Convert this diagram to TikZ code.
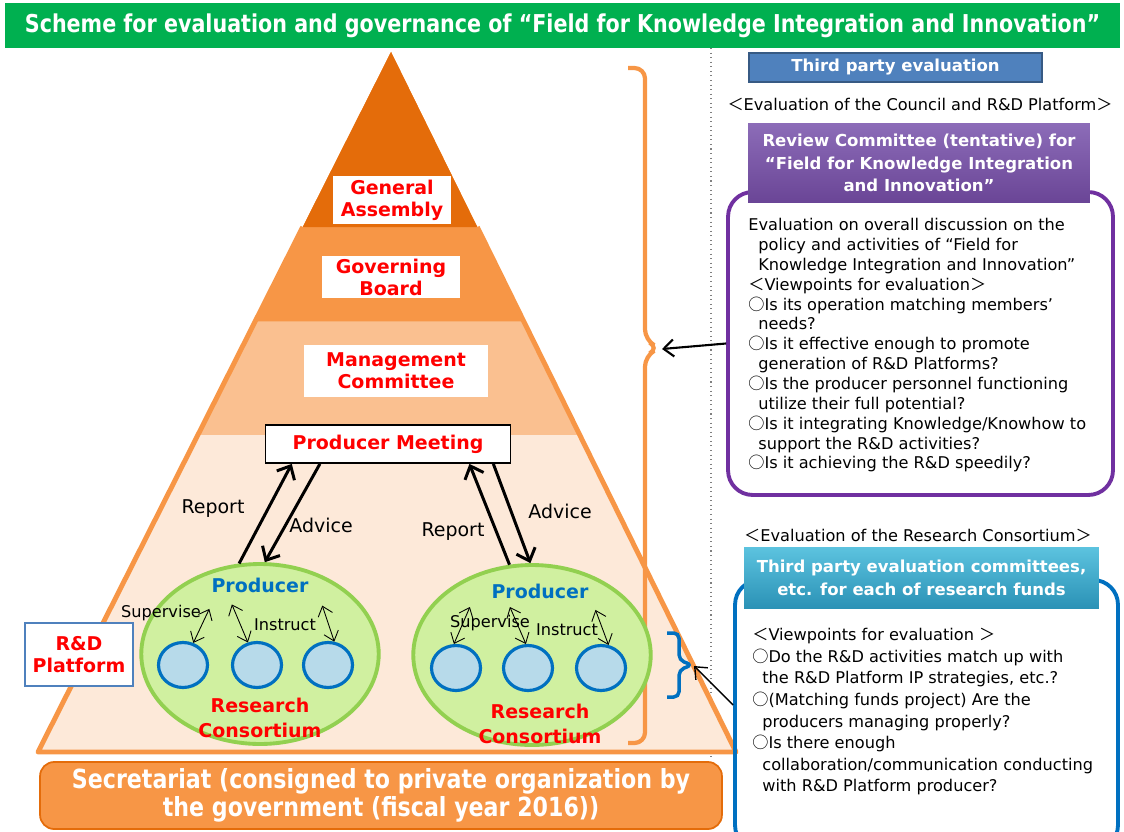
\documentclass[tikz,border=0pt]{standalone}
\usepackage{fontspec}
\setmainfont{DejaVu Sans}
\newfontfamily\cjk{Noto Sans CJK JP}
\newfontfamily\narrow{DejaVu Sans}[FakeStretch=0.84]
\usetikzlibrary{positioning,calc,arrows.meta,shapes.geometric}

\definecolor{titlegreen}{HTML}{00B050}
\definecolor{pyrA}{HTML}{E46C0A}
\definecolor{pyrB}{HTML}{F79646}
\definecolor{pyrC}{HTML}{FAC090}
\definecolor{pyrD}{HTML}{FDE9D9}
\definecolor{evblue}{HTML}{4F81BD}
\definecolor{linepurple}{HTML}{7030A0}
\definecolor{hdpurpleA}{HTML}{8C6CB8}
\definecolor{hdpurpleB}{HTML}{6A4596}
\definecolor{hdcyanA}{HTML}{5CC3DF}
\definecolor{hdcyanB}{HTML}{2B92B6}
\definecolor{lineblue}{HTML}{0070C0}
\definecolor{rcgreen}{HTML}{D0F0A0}
\definecolor{rcedge}{HTML}{92D050}
\definecolor{circblue}{HTML}{B7DAEA}

\newcommand\ind{\hspace*{0.2cm}}
\newcommand\lt{{\cjk ＜}}
\newcommand\gt{{\cjk ＞}}
\newcommand\ci{{\cjk ○}}

\begin{document}
\begin{tikzpicture}[x=0.02cm,y=-0.02cm,
  lvl/.style={fill=white,text=red,font=\fontsize{10.8}{12.6}\selectfont\bfseries,align=center,inner sep=0pt},
  hdr/.style={text=white,font=\fontsize{9.4}{13}\selectfont\bfseries,align=center,inner sep=0pt},
  bodytext/.style={font=\fontsize{9.2}{11.3}\selectfont,align=left,inner sep=0pt,anchor=north west},
  plainlabel/.style={font=\fontsize{9.2}{11}\selectfont,inner sep=0pt},
  consort/.style={ellipse,fill=rcgreen,draw=rcedge,line width=2.2pt,minimum width=4.75cm,minimum height=3.6cm},
  member/.style={ellipse,fill=circblue,draw=lineblue,line width=1.8pt,minimum width=0.98cm,minimum height=0.9cm},
  prodlbl/.style={text=lineblue,font=\fontsize{10.8}{12.6}\selectfont\bfseries,inner sep=0pt},
  rclbl/.style={text=red,font=\fontsize{10.8}{14.5}\selectfont\bfseries,align=center,inner sep=0pt},
  arrowlbl/.style={font=\fontsize{10.8}{12}\selectfont,inner sep=0pt},
  rptarrow/.style={line width=1.7pt,-{Straight Barb[length=2.2mm,width=4mm]}},
  subarrow/.style={line width=0.5pt,{Straight Barb[length=1.8mm,width=3mm]}-{Straight Barb[length=1.8mm,width=3mm]}},
  bracearrow/.style={line width=1.2pt,-{Straight Barb[length=2mm,width=3.4mm]}}]

\useasboundingbox (0,0) rectangle (1124,831);
\clip (0,0) rectangle (1124,831);

\node[fill=titlegreen,minimum width=22.3cm,minimum height=0.9cm,inner sep=0pt,text=white,
  font=\narrow\bfseries\fontsize{14}{16}\selectfont] (title) at (562.5,25.5)
  {Scheme for evaluation and governance of “Field for Knowledge Integration and Innovation”};

\draw[gray,dotted,line width=0.6pt] (711,48) -- (711,760);

\coordinate (apex) at (391,52);
\coordinate (bl) at (38,752);
\coordinate (br) at (736,752);

\fill[pyrD] (apex) -- (bl) -- (br) -- cycle;
\fill[pyrC] (apex) -- ($(apex)!0.547!(bl)$) -- ($(apex)!0.547!(br)$) -- cycle;
\fill[pyrB] (apex) -- ($(apex)!0.385!(bl)$) -- ($(apex)!0.385!(br)$) -- cycle;
\fill[pyrA] (apex) -- ($(apex)!0.25!(bl)$) -- ($(apex)!0.25!(br)$) -- cycle;
\draw[pyrB,line width=2.8pt,line join=round] ($(apex)!0.25!(bl)$) -- (bl) -- (br) -- ($(apex)!0.25!(br)$);

\node[lvl,minimum width=2.38cm,minimum height=0.98cm] (ga) at (392,200) {General\\Assembly};

\node[lvl,minimum width=2.78cm,minimum height=0.86cm] (gb) at (391,277) {Governing\\Board};

\node[lvl,minimum width=3.7cm,minimum height=1.06cm] (mc) at (396,371) {Management\\Committee};

\node[lvl,draw=black,line width=1pt,text=red,minimum width=4.9cm,minimum height=0.76cm] (pm) at (388,444) {Producer Meeting};

\draw[pyrB,line width=2.4pt,rounded corners=6pt] (628,68) -- (645,68) -- (645,340) -- (659,348) -- (645,356) -- (645,743) -- (628,743);
\coordinate (ob) at (662,349);

\node[consort] (ell1) at (260,654) {};

\node[consort] (ell2) at (532,655) {};

\node[member] (c11) at (183,665) {};
\node[member] (c12) at (257,665) {};
\node[member] (c13) at (328,665) {};

\node[member] (c21) at (456,668) {};
\node[member] (c22) at (528,668) {};
\node[member] (c23) at (601,668) {};

\node[prodlbl] (prod1) at (260,585) {Producer};
\node[rclbl] (rc1) at (260,718) {Research\\Consortium};

\node[prodlbl] (prod2) at (540,591) {Producer};
\node[rclbl] (rc2) at (540,724) {Research\\Consortium};

\node[lvl,draw=evblue,line width=0.8pt,minimum width=2.16cm,minimum height=1.26cm] (rdp) at (79,654.5) {R\&D\\Platform};

\draw[rptarrow] (ell1.103) -- ($(pm.south west)!0.11!(pm.south east)$);
\draw[rptarrow] ($(pm.south west)!0.224!(pm.south east)$) -- (ell1.87);
\draw[rptarrow] (ell2.104) -- ($(pm.south west)!0.83!(pm.south east)$);
\draw[rptarrow] ($(pm.south west)!0.927!(pm.south east)$) -- (ell2.91);

\node[arrowlbl] (rep1) at (213,509) {Report};
\node[arrowlbl] (adv1) at (321,525) {Advice};
\node[arrowlbl] (rep2) at (453,532) {Report};
\node[arrowlbl] (adv2) at (560,511) {Advice};

\draw[subarrow] (c11.65) -- ++(16,-34);
\draw[subarrow] (c12.112) -- ++(-16,-38);
\draw[subarrow] (c13.75) -- ++(-12,-36);
\draw[subarrow] (c21.95) -- ++(16,-37);
\draw[subarrow] (c22.95) -- ++(-16,-37);
\draw[subarrow] (c23.72) -- ++(-13,-35);

\node[plainlabel] (sup1) at (161,613) {Supervise};
\node[plainlabel] (ins1) at (285,625) {Instruct};
\node[plainlabel] (sup2) at (490,623) {Supervise};
\node[plainlabel] (ins2) at (567,630) {Instruct};

\node[fill=pyrB,draw=pyrA,line width=1pt,rounded corners=8pt,minimum width=13.64cm,minimum height=1.34cm,
  text=white,align=center,font=\narrow\bfseries\fontsize{15}{14.6}\selectfont] (secr) at (381,795.5)
  {Secretariat (consigned to private organization by\\the government (fiscal year 2016))};

\node[hdr,fill=evblue,draw=evblue!70!black,line width=0.8pt,minimum width=5.86cm,minimum height=0.58cm] (tpe) at (895.5,67.5) {Third party evaluation};

\node[plainlabel] (councilhd) at (920,104) {\lt Evaluation of the Council and R\&D Platform\gt};

\node[draw=linepurple,line width=2.2pt,rounded corners=14pt,minimum width=7.7cm,minimum height=6.06cm] (revbox) at (920.5,343.5) {};

\node[hdr,top color=hdpurpleA,bottom color=hdpurpleB,minimum width=6.84cm,minimum height=1.6cm] (revhd) at (919,163)
  {Review Committee (tentative) for\\“Field for Knowledge Integration\\and Innovation”};

\node[bodytext] (revtxt) at (748,218) {Evaluation on overall discussion on the\\
\ind policy and activities of “Field for\\
\ind Knowledge Integration and Innovation”\\
\lt Viewpoints for evaluation\gt\\
\ci Is its operation matching members’\\
\ind needs?\\
\ci Is it effective enough to promote\\
\ind generation of R\&D Platforms?\\
\ci Is the producer personnel functioning\\
\ind utilize their full potential?\\
\ci Is it integrating Knowledge/Knowhow to\\
\ind support the R\&D activities?\\
\ci Is it achieving the R\&D speedily?};

\node[plainlabel] (rchd) at (918,535) {\lt Evaluation of the Research Consortium\gt};

\node[draw=lineblue,line width=2.2pt,rounded corners=14pt,minimum width=7.66cm,minimum height=5.4cm] (fundbox) at (926.5,715) {};

\node[hdr,top color=hdcyanA,bottom color=hdcyanB,minimum width=7.1cm,minimum height=1.22cm] (fundhd) at (921.5,577.5)
  {Third party evaluation committees,\\etc. for each of research funds};

\node[bodytext,font=\fontsize{9.2}{12.3}\selectfont] (fundtxt) at (752,628) {\lt Viewpoints for evaluation \gt\\
\ci Do the R\&D activities match up with\\
\ind the R\&D Platform IP strategies, etc.?\\
\ci (Matching funds project) Are the\\
\ind producers managing properly?\\
\ci Is there enough\\
\ind collaboration/communication conducting\\
\ind with R\&D Platform producer?};

\draw[bracearrow] (revbox.west) -- (ob);

\draw[lineblue,line width=2pt,rounded corners=3pt] (667,633) -- (679,633) -- (679,660) -- (692,665) -- (679,670) -- (679,697) -- (667,697);
\coordinate (bb) at (694,666);

\draw[bracearrow,line width=0.8pt] ($(fundbox.west)+(0,-10)$) -- (bb);
\end{tikzpicture}
\end{document}
